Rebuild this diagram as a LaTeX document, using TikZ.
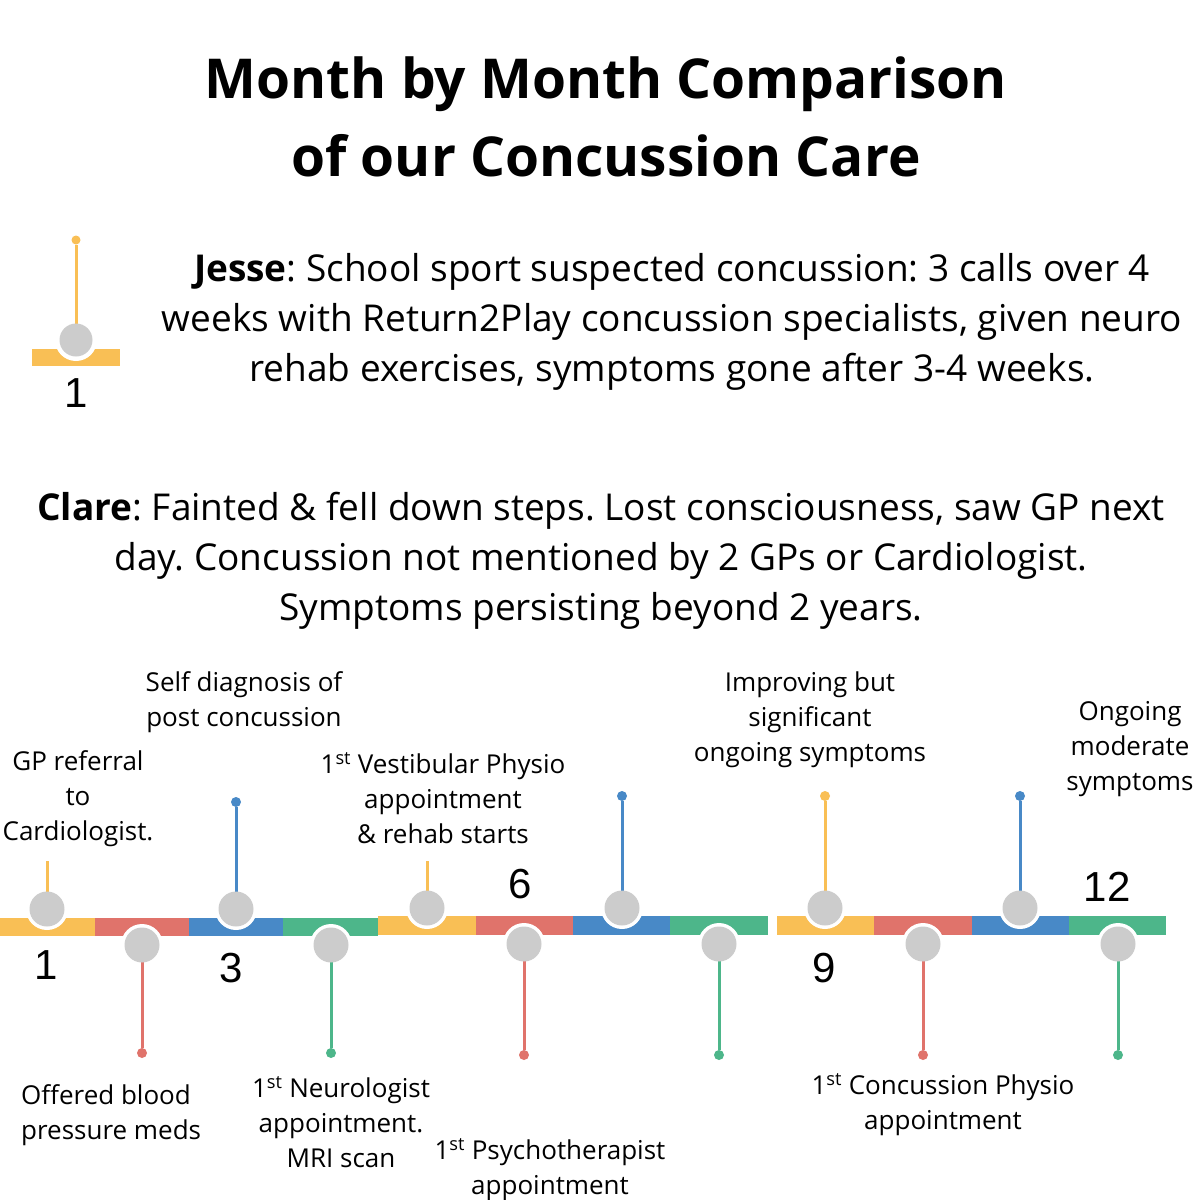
\documentclass[tikz,border=0pt]{standalone}
\usepackage{fontspec}
\setmainfont{Open Sans}
\newfontfamily\numfont{Liberation Sans}
\frenchspacing
\definecolor{tyel}{HTML}{F9BF55}
\definecolor{tred}{HTML}{E0736B}
\definecolor{tblu}{HTML}{4889C7}
\definecolor{tgrn}{HTML}{4DB68A}
\definecolor{knobgray}{HTML}{CCCCCC}
\begin{document}
\begin{tikzpicture}[x=1pt,y=-1pt,
  halo/.style={circle,fill=white,inner sep=0,minimum size=42pt},
  knob/.style={circle,fill=knobgray,inner sep=0,minimum size=35pt},
  pin/.style={circle,inner sep=0,minimum size=10pt},
  stem/.style={line width=3pt},
  lbl/.style={font=\frenchspacing\fontsize{26}{35}\selectfont,align=center,inner sep=0},
  para/.style={font=\frenchspacing\fontsize{37}{50}\selectfont,align=center,inner sep=0},
  num/.style={font=\numfont\fontsize{42}{42}\selectfont,inner sep=0}]
\useasboundingbox (0,0) rectangle (1200,1200);
\fill[white] (0,0) rectangle (1200,1200);

% title
\node[font=\bfseries\fontsize{55}{78}\selectfont,align=center,inner sep=0] (title) at (606,117)
  {Month by Month Comparison\\of our Concussion Care};

% Jesse
\node[para] (jesse) at (672,322) {\textbf{Jesse}: School sport suspected concussion: 3 calls over 4\\weeks with Return2Play concussion specialists, given neuro\\rehab exercises, symptoms gone after 3-4 weeks.};
\fill[tyel] (32,349) rectangle (120,366);
\node[halo] (jh) at (76,340) {};
\node[pin,fill=tyel,minimum size=9pt] (jd) at (76,240) {};
\draw[stem,tyel] (jd) -- (jh.center);
\node[knob,minimum size=33pt] (jk) at (jh) {};
\node[num] (jn) at (76,393) {1};

% Clare
\node[para] (clare) at (601,561) {\textbf{Clare}: Fainted \& fell down steps. Lost consciousness, saw GP next\\day. Concussion not mentioned by 2 GPs or Cardiologist.\\Symptoms persisting beyond 2 years.};

% bars
\fill[tyel] (0,918) rectangle (95,936);
\fill[tred] (95,918) rectangle (189,936);
\fill[tblu] (189,918) rectangle (283,936);
\fill[tgrn] (283,918) rectangle (378,936);
\fill[tyel] (378,916) rectangle (476,935);
\fill[tred] (476,916) rectangle (573,935);
\fill[tblu] (573,916) rectangle (670,935);
\fill[tgrn] (670,916) rectangle (768,935);
\fill[tyel] (777,916) rectangle (874,935);
\fill[tred] (874,916) rectangle (972,935);
\fill[tblu] (972,916) rectangle (1069,935);
\fill[tgrn] (1069,916) rectangle (1166,935);

% halos
\node[halo] (h1) at (47,909) {};
\node[halo] (h2) at (142,945) {};
\node[halo] (h3) at (236,909) {};
\node[halo] (h4) at (331,945) {};
\node[halo] (h5) at (427,908) {};
\node[halo] (h6) at (524,944) {};
\node[halo] (h7) at (622,908) {};
\node[halo] (h8) at (719,944) {};
\node[halo] (h9) at (825,908) {};
\node[halo] (h10) at (923,944) {};
\node[halo] (h11) at (1020,908) {};
\node[halo] (h12) at (1118,944) {};

% pins
\coordinate (d1) at (47,861);
\node[pin,fill=tred] (d2) at (142,1053) {};
\node[pin,fill=tblu] (d3) at (236,802) {};
\node[pin,fill=tgrn] (d4) at (331,1053) {};
\coordinate (d5) at (427,861);
\node[pin,fill=tred] (d6) at (524,1055) {};
\node[pin,fill=tblu] (d7) at (622,796) {};
\node[pin,fill=tgrn] (d8) at (719,1055) {};
\node[pin,fill=tyel] (d9) at (825,796) {};
\node[pin,fill=tred] (d10) at (923,1055) {};
\node[pin,fill=tblu] (d11) at (1020,796) {};
\node[pin,fill=tgrn] (d12) at (1118,1055) {};

% stems
\draw[stem,tyel] (d1) -- (h1.center);
\draw[stem,tred] (d2) -- (h2.center);
\draw[stem,tblu] (d3) -- (h3.center);
\draw[stem,tgrn] (d4) -- (h4.center);
\draw[stem,tyel] (d5) -- (h5.center);
\draw[stem,tred] (d6) -- (h6.center);
\draw[stem,tblu] (d7) -- (h7.center);
\draw[stem,tgrn] (d8) -- (h8.center);
\draw[stem,tyel] (d9) -- (h9.center);
\draw[stem,tred] (d10) -- (h10.center);
\draw[stem,tblu] (d11) -- (h11.center);
\draw[stem,tgrn] (d12) -- (h12.center);

% knobs
\foreach \i in {1,...,12} {\node[knob] (k\i) at (h\i) {};}

% numbers
\node[num] (n1) at (46,965) {1};
\node[num] (n3) at (231,968) {3};
\node[num] (n6) at (520,884) {6};
\node[num] (n9) at (824,968) {9};
\node[num] (n12) at (1107,887) {12};

% labels
\node[lbl] (l1) at (78,799) {GP referral\\to\\Cardiologist.};
\node[lbl] (l3) at (244,702) {Self diagnosis of\\post concussion};
\node[lbl] (l5) at (443,798) {1\textsuperscript{st} Vestibular Physio\\appointment\\\& rehab starts};
\node[lbl] (l9) at (810,720) {Improving but\\significant\\ongoing symptoms};
\node[lbl] (l12) at (1130,749) {Ongoing\\moderate\\symptoms};
\node[lbl,align=left,anchor=west] (l2) at (21,1115) {Offered blood\\pressure meds};
\node[lbl] (l4) at (341,1122) {1\textsuperscript{st} Neurologist\\appointment.\\MRI scan};
\node[lbl] (l6) at (550,1170) {1\textsuperscript{st} Psychotherapist\\appointment};
\node[lbl] (l10) at (943,1105) {1\textsuperscript{st} Concussion Physio\\appointment};
\end{tikzpicture}
\end{document}
